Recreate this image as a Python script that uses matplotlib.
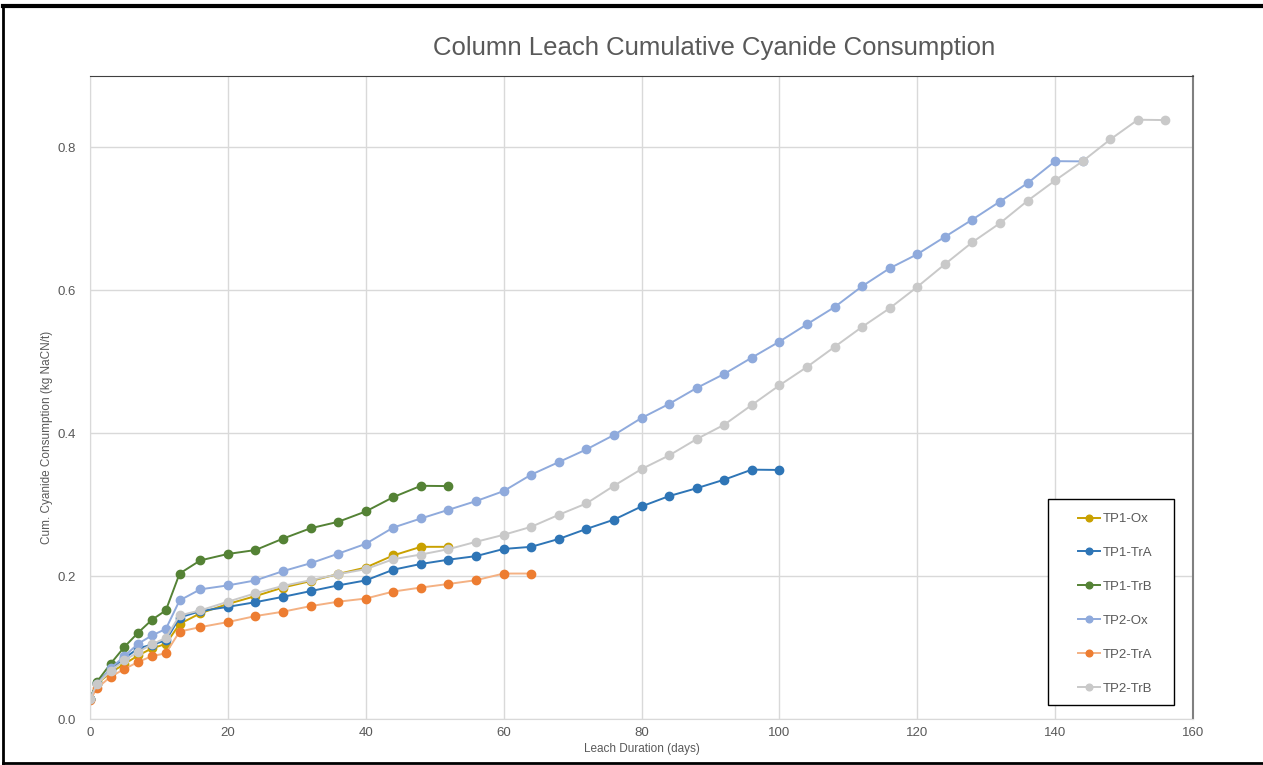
import matplotlib
matplotlib.use('Agg')
import matplotlib.pyplot as plt
from matplotlib.lines import Line2D
from matplotlib.patches import Rectangle

plt.rcParams['font.family'] = ['Liberation Sans', 'DejaVu Sans']

# dias de lixiviacao (mesma grade para todas as colunas)
dias = [0, 1, 3, 5, 7, 9, 11, 13, 16, 20, 24, 28, 32, 36, 40, 44, 48, 52, 56, 60,
        64, 68, 72, 76, 80, 84, 88, 92, 96, 100, 104, 108, 112, 116, 120, 124, 128,
        132, 136, 140, 144, 148, 152, 156]

tp1_ox = [0.028, 0.049, 0.065, 0.077, 0.089, 0.099, 0.105, 0.133, 0.148, 0.161, 0.172,
          0.184, 0.193, 0.203, 0.212, 0.229, 0.241, 0.241]
tp1_tra = [0.028, 0.050, 0.069, 0.085, 0.099, 0.104, 0.110, 0.142, 0.151, 0.157, 0.1635,
           0.171, 0.179, 0.187, 0.194, 0.209, 0.217, 0.223, 0.228, 0.238, 0.241, 0.252,
           0.266, 0.279, 0.2975, 0.312, 0.323, 0.335, 0.349, 0.3486]
tp1_trb = [0.028, 0.052, 0.0775, 0.101, 0.121, 0.139, 0.152, 0.2036, 0.222, 0.231, 0.2365,
           0.2525, 0.267, 0.276, 0.2905, 0.3106, 0.3264, 0.326]
tp2_ox = [0.028, 0.049, 0.071, 0.088, 0.1055, 0.117, 0.126, 0.166, 0.1815, 0.187, 0.194,
          0.207, 0.218, 0.2314, 0.2452, 0.268, 0.2807, 0.2928, 0.305, 0.319, 0.342, 0.3596,
          0.3773, 0.3975, 0.4213, 0.441, 0.4633, 0.483, 0.5058, 0.5282, 0.5525, 0.5765,
          0.6057, 0.6309, 0.6505, 0.6748, 0.6991, 0.7243, 0.75, 0.7808, 0.7805]
tp2_tra = [0.026, 0.043, 0.0593, 0.070, 0.080, 0.088, 0.092, 0.1224, 0.1286, 0.1357, 0.1441,
           0.1502, 0.158, 0.1642, 0.1686, 0.1784, 0.184, 0.189, 0.1943, 0.2036, 0.2036]
tp2_trb = [0.028, 0.0486, 0.0676, 0.082, 0.094, 0.1046, 0.1135, 0.145, 0.152, 0.1642, 0.176,
           0.1863, 0.1943, 0.2027, 0.2097, 0.2237, 0.2302, 0.2377, 0.248, 0.2578, 0.269,
           0.2858, 0.3017, 0.3264, 0.3498, 0.3689, 0.3918, 0.4119, 0.4395, 0.467, 0.4927,
           0.5208, 0.5488, 0.5749, 0.6048, 0.6365, 0.6674, 0.694, 0.7253, 0.7538, 0.7808,
           0.8112, 0.8388, 0.8383]

series = [
    ('TP1-Ox', tp1_ox, '#C9A100', '#C9A100'),
    ('TP1-TrA', tp1_tra, '#2E75B6', '#2E75B6'),
    ('TP1-TrB', tp1_trb, '#548235', '#548235'),
    ('TP2-Ox', tp2_ox, '#8FAADC', '#8FAADC'),
    ('TP2-TrA', tp2_tra, '#F4B183', '#ED7D31'),
    ('TP2-TrB', tp2_trb, '#C9C9C9', '#C9C9C9'),
]

W, H = 1263, 765
fig = plt.figure(figsize=(W / 100, H / 100), dpi=100)
ax = fig.add_axes([90 / W, 1 - 719 / H, 1103 / W, 643 / H])

for nome, vals, cor_linha, cor_marc in series:
    ax.plot(dias[:len(vals)], vals, color=cor_linha, linewidth=1.4, marker='o',
            markersize=6, markerfacecolor=cor_marc, markeredgecolor=cor_marc, label=nome)

ax.set_xlim(0, 160)
ax.set_ylim(0, 0.9)
ax.set_xticks(range(0, 161, 20))
ax.set_yticks([0.0, 0.2, 0.4, 0.6, 0.8])
ax.set_yticklabels(['0.0', '0.2', '0.4', '0.6', '0.8'])
ax.tick_params(length=0, labelsize=9.5, labelcolor='#595959')
ax.tick_params(axis='y', pad=10)
ax.tick_params(axis='x', pad=6)
ax.grid(True, color='#D9D9D9', linewidth=1)
ax.set_axisbelow(True)

ax.spines['left'].set_color('#D9D9D9')
ax.spines['bottom'].set_color('#D9D9D9')
ax.spines['top'].set_color('#404040')
ax.spines['right'].set_color('#808080')
ax.spines['right'].set_linewidth(1.5)

fig.text(0.5 * (436 + 992) / W, 1 - 48 / H, 'Column Leach Cumulative Cyanide Consumption',
         ha='center', va='center', fontsize=18.5, color='#595959')
fig.text(0.5 * (90 + 1193) / W, 1 - 749 / H, 'Leach Duration (days)',
         ha='center', va='center', fontsize=8.5, color='#595959')
fig.text(47 / W, 1 - 437 / H, 'Cum. Cyanide Consumption (kg NaCN/t)',
         ha='center', va='center', rotation=90, fontsize=8.5, color='#595959')

# caixa da legenda desenhada a parte (folga maior a direita, como no Excel)
ax.add_patch(Rectangle((1048 / W, 1 - 705 / H), 126 / W, 206 / H, transform=fig.transFigure,
                       facecolor='white', edgecolor='black', linewidth=1.0, zorder=4,
                       clip_on=False))
leg = ax.legend(loc='upper left', bbox_to_anchor=(1074 / W, 1 - 509 / H),
                bbox_transform=fig.transFigure, frameon=False,
                fontsize=9.5, labelspacing=1.64, handlelength=1.7, handletextpad=0.15,
                borderpad=0.3, markerscale=0.8, borderaxespad=0)
leg.set_zorder(5)
for t in leg.get_texts():
    t.set_color('#595959')

# moldura preta do print
fig.add_artist(Line2D([3 / W, 3 / W], [0, 1 - 6 / H], transform=fig.transFigure,
                      color='black', linewidth=2))
fig.add_artist(Line2D([3 / W, 1], [1 - 6 / H, 1 - 6 / H], transform=fig.transFigure,
                      color='black', linewidth=3))
fig.add_artist(Line2D([3 / W, 1], [1 - 763 / H, 1 - 763 / H], transform=fig.transFigure,
                      color='black', linewidth=2))

fig.savefig('out.png', dpi=100)
